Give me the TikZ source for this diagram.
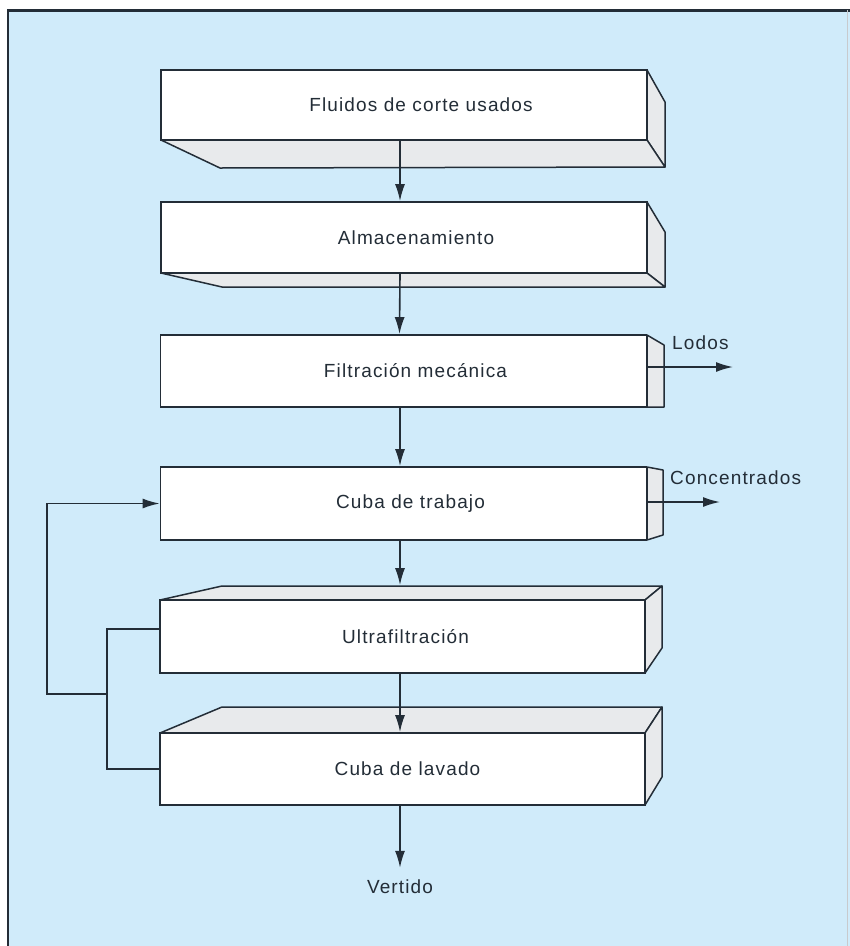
\documentclass[tikz,border=0pt]{standalone}
\usepackage{fontspec}
\setmainfont{Liberation Sans}
\newfontfamily\lab[LetterSpace=6]{Liberation Sans}
\usetikzlibrary{arrows.meta}
\definecolor{bg}{RGB}{208,235,250}
\definecolor{ln}{RGB}{35,45,55}
\definecolor{side}{RGB}{232,234,236}
\newcommand{\shf}[1]{\hspace*{#1pt}}
\begin{document}
\begin{tikzpicture}[x=1pt,y=-1pt,
 front/.style={draw=ln,line width=1.8pt,fill=white,minimum width=486pt,inner sep=0pt,text=ln,font=\lab\fontsize{19}{21}\selectfont},
 face/.style={draw=ln,line width=1.5pt,fill=side,line join=round},
 flow/.style={draw=ln,line width=1.6pt,-{Latex[length=17pt,width=10pt]}},
 wire/.style={draw=ln,line width=1.6pt},
 lbl/.style={font=\lab\fontsize{19}{21}\selectfont,text=ln,inner sep=0pt}]
\useasboundingbox (0,0) rectangle (850,946);
\fill[white] (0,0) rectangle (850,946);
\fill[bg] (8,10) rectangle (850,946);
\draw[ln,line width=3pt] (7,10) -- (850,10);
\draw[ln,line width=2pt] (8,10) -- (8,946);
\draw[ln!25,line width=1pt] (847,10) -- (847,946);
% 3D faces
\draw[face] (647,70) -- (665,102) -- (665,167) -- (647,140) -- cycle;
\draw[face] (161,140) -- (220,168) -- (665,167) -- (647,140) -- cycle;
\draw[face] (647,202) -- (665,232) -- (665,287) -- (647,273) -- cycle;
\draw[face] (161,273) -- (222,287) -- (665,287) -- (647,273) -- cycle;
\draw[face] (647,335) -- (664,345) -- (664,407) -- (647,407) -- cycle;
\draw[face] (647,467) -- (663,470) -- (663,535) -- (647,540) -- cycle;
\draw[face] (160,600) -- (222,586) -- (662,586) -- (645,600) -- cycle;
\draw[face] (645,600) -- (662,586) -- (662,648) -- (645,673) -- cycle;
\draw[face] (160,733) -- (222,707) -- (662,707) -- (645,733) -- cycle;
\draw[face] (645,733) -- (662,707) -- (662,777) -- (645,805) -- cycle;
% front faces
\node[front,minimum height=70pt] (b1) at (404,105) {\shf{34}Fluidos de corte usados};
\node[front,minimum height=71pt] (b2) at (404,237.5) {\shf{24}Almacenamiento};
\node[front,minimum height=72pt] (b3) at (403.5,371) {\shf{24}Filtración mecánica};
\node[front,minimum height=73pt] (b4) at (403.5,503.5) {\shf{14}Cuba de trabajo};
\node[front,minimum height=73pt,minimum width=485pt] (b5) at (402.5,636.5) {\shf{6}Ultrafiltración};
\node[front,minimum height=72pt,minimum width=485pt] (b6) at (402.5,769) {\shf{10}Cuba de lavado};
\node[lbl] (v) at (400,887) {Vertido};
\node[lbl,anchor=west] (lo) at (672,343) {Lodos};
\node[lbl,anchor=west] (co) at (670,478) {Concentrados};
\coordinate (loe) at (733,367);
\coordinate (coe) at (720,502);
\coordinate (j) at (107,694);
\coordinate (lp) at (47,694);
% connectors
\draw[flow] ([xshift=-4pt]b1.south) -- ([xshift=-4pt]b2.north);
\draw[flow] ([xshift=-4pt]b2.south) -- ([xshift=-4pt]b3.north);
\draw[flow] ([xshift=-3.5pt]b3.south) -- ([xshift=-3.5pt]b4.north);
\draw[flow] ([xshift=-3.5pt]b4.south) -- ([xshift=-2.5pt,yshift=14pt]b5.north);
\draw[flow] ([xshift=-2.5pt]b5.south) -- ([xshift=-2.5pt]b6.north);
\draw[flow] ([xshift=-2.5pt]b6.south) -- ([yshift=12pt]v.north);
\draw[flow] ([yshift=4pt]b3.east) -- (loe);
\draw[flow] ([yshift=1.5pt]b4.east) -- (coe);
\draw[wire] ([yshift=7.5pt]b5.west) -| (j) |- (b6.west);
\draw[flow] (j) -- (lp) |- (b4.west);
\end{tikzpicture}
\end{document}
